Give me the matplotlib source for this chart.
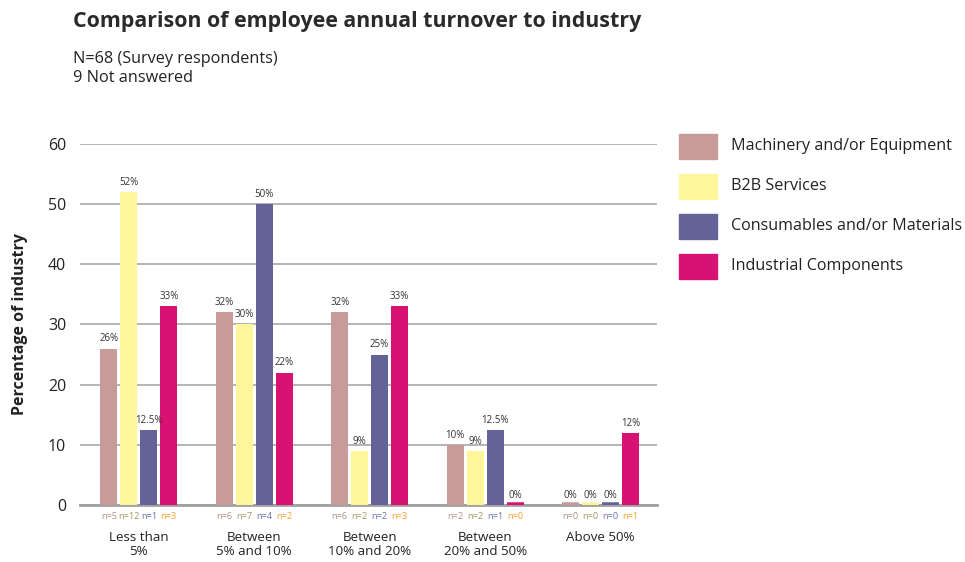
import matplotlib
matplotlib.use("Agg")
import matplotlib.pyplot as plt
import numpy as np
from matplotlib.patches import Rectangle

plt.rcParams['font.family'] = ['Open Sans', 'DejaVu Sans']

categories = ["Less than\n5%", "Between\n5% and 10%", "Between\n10% and 20%",
              "Between\n20% and 50%", "Above 50%"]
series = ["Machinery and/or Equipment", "B2B Services",
          "Consumables and/or Materials", "Industrial Components"]
values = [
    [26, 32, 32, 10, 0],
    [52, 30, 9, 9, 0],
    [12.5, 50, 25, 12.5, 0],
    [33, 22, 33, 0, 12],
]
value_labels = [
    ["26%", "32%", "32%", "10%", "0%"],
    ["52%", "30%", "9%", "9%", "0%"],
    ["12.5%", "50%", "25%", "12.5%", "0%"],
    ["33%", "22%", "33%", "0%", "12%"],
]
counts = [
    [5, 6, 6, 2, 0],
    [12, 7, 2, 2, 0],
    [1, 4, 2, 1, 0],
    [3, 2, 3, 0, 1],
]
colors = ["#c89b9b", "#fff59a", "#636399", "#d81273"]
n_colors = ["#b09090", "#a09a60", "#7070b0", "#f7a030"]

fig = plt.figure(figsize=(9.65, 5.62), dpi=100)
ax = fig.add_axes([0.0829, 0.1014, 0.598, 0.6424])

x = np.arange(len(categories))
step = 0.173
width = 0.147
for i, (name, vals) in enumerate(zip(series, values)):
    pos = x + (i - 1.5) * step
    # zero-height bars still get a thin visible stub via their edge
    ax.bar(pos, vals, width, color=colors[i], edgecolor=colors[i],
           linewidth=[4 if v == 0 else 0 for v in vals], zorder=3)
    for p, v, lab, n in zip(pos, vals, value_labels[i], counts[i]):
        ax.text(p, v + 0.7, lab, ha="center", va="bottom", fontsize=7,
                color="#333333", zorder=4)
        ax.text(p, -1.2, f"n={n}", ha="center", va="top", fontsize=6.6,
                color=n_colors[i])

ax.set_ylim(0, 60)
ax.set_xlim(-0.51, 4.49)
ax.set_yticks(range(0, 61, 10))
ax.set_xticks(x)
ax.set_xticklabels(categories, fontsize=9.6, color="#222222", linespacing=1.05)
ax.tick_params(axis="x", length=0, pad=19)
ax.tick_params(axis="y", length=0, labelsize=11.5, labelcolor="#222222", pad=10)
ax.yaxis.grid(True, color="#a8a8a8", linewidth=1.2, zorder=0)
ax.set_axisbelow(True)
for s in ["top", "right", "left"]:
    ax.spines[s].set_visible(False)
ax.spines["bottom"].set_color("#a0a0a0")
ax.spines["bottom"].set_linewidth(2)
ax.spines["bottom"].set_zorder(2)
ax.set_ylabel("Percentage of industry", fontsize=11.5, fontweight="bold",
              color="#222222", labelpad=14)

fig.text(73 / 965, 1 - 22 / 562, "Comparison of employee annual turnover to industry",
         fontsize=15.4, fontweight="bold", color="#2a2a2a", va="center")
fig.text(73 / 965, 1 - 59 / 562, "N=68 (Survey respondents)", fontsize=11.7,
         color="#222222", va="center")
fig.text(73 / 965, 1 - 78 / 562, "9 Not answered", fontsize=11.7,
         color="#222222", va="center")

# legend built by hand as swatches with labels
for i, name in enumerate(series):
    yc = 146 + 40 * i
    fig.patches.append(Rectangle((679 / 965, 1 - (yc + 12.5) / 562), 38 / 965, 25 / 562,
                                 transform=fig.transFigure, color=colors[i]))
    fig.text(731 / 965, 1 - yc / 562, name, fontsize=11.6, color="#222222", va="center")

fig.savefig("out.png", dpi=100)
